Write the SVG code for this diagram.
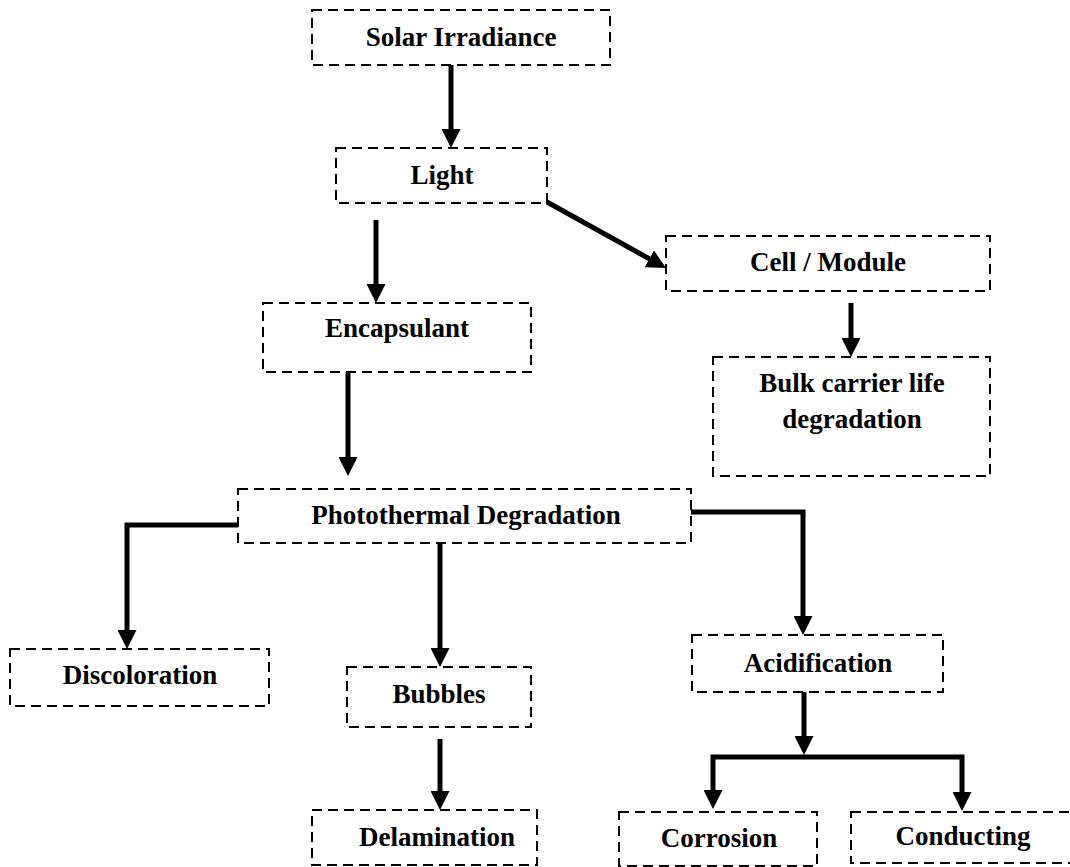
<svg xmlns="http://www.w3.org/2000/svg" width="1070" height="867" viewBox="0 0 1070 867">
<style>
.box{fill:#fff;stroke:#000;stroke-width:2;stroke-dasharray:10 6}
.lbl{font-family:"Liberation Serif","Times New Roman",serif;font-weight:bold;font-size:27px;fill:#000;text-anchor:middle}
.con{fill:none;stroke:#000;stroke-width:5;stroke-linejoin:miter}
</style>
<defs>
<marker id="ah" markerUnits="userSpaceOnUse" markerWidth="19" markerHeight="19" refX="8" refY="9.5" orient="auto-start-reverse" viewBox="0 0 19 19">
<path d="M0,0 L19,9.5 L0,19 z" fill="#000"/>
</marker>
</defs>
<rect width="1070" height="867" fill="#fff"/>
<g id="connectors">
<path class="con" d="M451,65 V137" marker-end="url(#ah)"/>
<path class="con" d="M547,202 L656.4,262.7" marker-end="url(#ah)"/>
<path class="con" d="M376,220 V292" marker-end="url(#ah)"/>
<path class="con" d="M851,303 V346" marker-end="url(#ah)"/>
<path class="con" d="M348,372 V465" marker-end="url(#ah)"/>
<path class="con" d="M238,525 H127 V638" marker-end="url(#ah)"/>
<path class="con" d="M440,543 V656" marker-end="url(#ah)"/>
<path class="con" d="M691,512 H803 V624" marker-end="url(#ah)"/>
<path class="con" d="M440,739 V799" marker-end="url(#ah)"/>
<path class="con" d="M804,692 V744" marker-end="url(#ah)"/>
<path class="con" d="M713,798 V757 H962 V800" marker-start="url(#ah)" marker-end="url(#ah)"/>
</g>
<g id="solar"><rect class="box" x="312" y="10" width="298" height="55"/><text class="lbl" x="461" y="46">Solar Irradiance</text></g>
<g id="light"><rect class="box" x="336" y="148" width="211" height="55"/><text class="lbl" x="442" y="184">Light</text></g>
<g id="cell"><rect class="box" x="666" y="236" width="324" height="55"/><text class="lbl" x="828" y="271">Cell / Module</text></g>
<g id="bulk"><rect class="box" x="713" y="357" width="277" height="119"/><text class="lbl" x="852" y="392">Bulk carrier life</text><text class="lbl" x="852" y="428">degradation</text></g>
<g id="encapsulant"><rect class="box" x="263" y="303" width="268" height="69"/><text class="lbl" x="397" y="337">Encapsulant</text></g>
<g id="photothermal"><rect class="box" x="238" y="489" width="453" height="54"/><text class="lbl" x="466" y="524">Photothermal Degradation</text></g>
<g id="discoloration"><rect class="box" x="10" y="649" width="259" height="57"/><text class="lbl" x="140" y="684">Discoloration</text></g>
<g id="bubbles"><rect class="box" x="347" y="667" width="184" height="60"/><text class="lbl" x="439" y="703">Bubbles</text></g>
<g id="delamination"><rect class="box" x="312" y="810" width="225" height="55"/><text class="lbl" x="437" y="846">Delamination</text></g>
<g id="acidification"><rect class="box" x="692" y="635" width="251" height="57"/><text class="lbl" x="818" y="672">Acidification</text></g>
<g id="corrosion"><rect class="box" x="619" y="812" width="198" height="54"/><text class="lbl" x="719" y="847">Corrosion</text></g>
<g id="conducting"><rect class="box" x="851" y="812" width="224" height="51"/><text class="lbl" x="963" y="845">Conducting</text></g>
</svg>
